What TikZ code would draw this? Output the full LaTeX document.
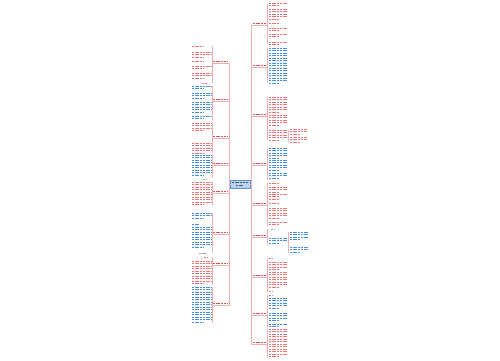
\documentclass[tikz,border=0pt]{standalone}
\begin{document}
\definecolor{lk}{HTML}{F0B0B0}
\definecolor{rt}{HTML}{E87878}
\definecolor{bt}{HTML}{4A90DC}
\definecolor{gt}{HTML}{A0A0A0}
\definecolor{lb}{HTML}{C85A5A}
\definecolor{cf}{HTML}{B9D2EE}
\definecolor{cb}{HTML}{5F93CF}
\tikzset{
  txt/.style={line width=0.9pt, dash pattern=on 2pt off 0.7pt},
  link/.style={draw=lk, line width=0.6pt},
  lab/.style={inner sep=0pt, minimum width=15pt, minimum height=2.5pt},
}
\newcommand\blk[5]{%
  \pgfmathtruncatemacro\nn{max(0,(#4-#3)/2.5)}%
  \foreach \i in {0,...,\nn}{%
    \pgfmathsetmacro\yy{floor(#3+2.5*\i)+0.5}%
    \ifnum\i=\nn
      \draw[txt,draw=#5] (#1,\yy) -- ({#1+0.6*(#2-#1)},\yy);
    \else
      \draw[txt,draw=#5] (#1,\yy) -- (#2,\yy);
    \fi
  }}
% right-side branch: name, y, top, bottom
\newcommand\rbr[4]{%
  \node[lab] (#1) at (260,#2) {};
  \draw[txt,draw=lb] (253,#2-0.5) -- (267,#2-0.5);
  \coordinate (#1t) at (251,#2+1.5);
  \coordinate (#1e) at (267.5,#2+1.5);
  \coordinate (#1a) at (267.5,#3);
  \coordinate (#1b) at (267.5,#4);
  \draw[link] (#1t) -- (#1e);
  \draw[link] (#1a) -- (#1b);
}
\newcommand\lbr[4]{%
  \node[lab] (#1) at (220.5,#2) {};
  \draw[txt,draw=lb] (213,#2-0.5) -- (228,#2-0.5);
  \coordinate (#1t) at (229.5,#2+1.5);
  \coordinate (#1e) at (212,#2+1.5);
  \coordinate (#1a) at (212,#3);
  \coordinate (#1b) at (212,#4);
  \draw[link] (#1t) -- (#1e);
  \draw[link] (#1a) -- (#1b);
}
\begin{tikzpicture}[x=1pt,y=-1pt]
\useasboundingbox (0,0) rectangle (500,360);
\fill[white] (0,0) rectangle (500,360);

% trunks
\coordinate (lt1) at (229.5,63.5);
\coordinate (lt2) at (229.5,305.5);
\coordinate (rt1) at (251.5,25.5);
\coordinate (rt2) at (251.5,344.5);
\draw[link] (lt1) -- (lt2);
\draw[link] (rt1) -- (rt2);

% center
\node[draw=cb, fill=cf, line width=0.6pt, minimum width=20pt, minimum height=8pt, inner sep=0pt] (c) at (240,184) {};
\draw[txt,draw=cb!60!black] (232,182.5) -- (248,182.5);
\draw[txt,draw=cb!60!black] (236,185.5) -- (244,185.5);
\draw[link] (c.west) -- (229.5,184);
\draw[link] (c.east) -- (251.5,184);

% ---------- right branches ----------
\rbr{r1}{24}{4}{44}
\blk{269}{287}{3}{7}{rt}
\blk{269}{287}{9}{20}{rt}
\blk{269}{287}{23}{25}{rt}
\blk{269}{287}{28}{32}{rt}
\blk{269}{287}{34}{38}{rt}
\blk{269}{287}{42}{45}{rt}

\rbr{r2}{66}{48}{83}
\blk{269}{287}{48}{83}{bt}

\rbr{r3}{115}{97}{140}
\blk{269}{287}{97}{112}{rt}
\blk{269}{287}{115}{127}{rt}
\blk{269}{287}{130}{140}{rt}
\coordinate (r3c) at (288.5,130);
\coordinate (r3d) at (288.5,142);
\draw[link] (r3c) -- (r3d);
\blk{290}{307}{129}{135}{rt}
\blk{290}{307}{137}{143}{rt}

\rbr{r4}{164}{148}{180}
\blk{269}{287}{148}{158}{bt}
\blk{269}{287}{160}{170}{bt}
\blk{269}{287}{173}{180}{bt}

\rbr{r5}{204}{183}{226}
\blk{269}{287}{183}{184}{rt}
\blk{269}{287}{187}{192}{rt}
\blk{269}{287}{194}{197}{rt}
\blk{269}{287}{199}{200}{rt}
\blk{269}{287}{203}{205}{rt}
\blk{269}{287}{208}{220}{rt}
\blk{269}{287}{222}{226}{rt}

\rbr{r6}{236}{229}{245}
\blk{271}{276}{229}{229}{gt}
\blk{269}{287}{238}{245}{bt}
\coordinate (r6c) at (288.5,232);
\coordinate (r6d) at (288.5,253);
\draw[link] (r6c) -- (r6d);
\blk{290}{308}{232}{240}{bt}
\blk{290}{308}{247}{253}{bt}

\rbr{r7}{276}{258}{292}
\blk{269}{276}{258}{258}{rt}
\blk{269}{287}{262}{270}{rt}
\blk{269}{287}{272}{287}{rt}
\blk{269}{276}{291}{291}{rt}

\rbr{r8}{314}{295}{327}
\blk{269}{276}{295}{295}{gt}
\blk{269}{287}{298}{310}{bt}
\blk{269}{287}{313}{322}{bt}
\blk{269}{287}{324}{327}{bt}

\rbr{r9}{343}{329}{358}
\blk{269}{287}{329}{358}{rt}

% ---------- left branches ----------
\lbr{l1}{62}{46}{83}
\blk{192}{211}{46}{48}{rt}
\blk{192}{211}{52}{57}{rt}
\blk{192}{211}{61}{63}{rt}
\blk{192}{211}{66}{69}{rt}
\blk{192}{211}{73}{79}{rt}
\blk{202}{211}{83}{83}{rt}

\lbr{l2}{100}{86}{120}
\blk{192}{211}{86}{90}{bt}
\blk{192}{211}{93}{98}{bt}
\blk{192}{211}{102}{112}{bt}
\blk{192}{211}{116}{120}{bt}

\lbr{l3}{137}{123}{153}
\blk{192}{211}{123}{132}{rt}
\blk{192}{211}{143}{153}{rt}

\lbr{l4}{164}{155}{178}
\blk{192}{211}{155}{176}{bt}
\blk{203}{210}{179}{179}{gt}

\lbr{l5}{192}{182}{205}
\blk{192}{211}{182}{205}{rt}

\lbr{l6}{233}{213}{253}
\blk{192}{211}{213}{220}{bt}
\blk{192}{205}{224}{224}{bt}
\blk{192}{211}{227}{247}{bt}
\blk{199}{210}{253}{253}{gt}

\lbr{l7}{264}{257}{285}
\blk{204}{211}{257}{257}{rt}
\blk{192}{211}{261}{285}{rt}

\lbr{l8}{304}{287}{323}
\blk{192}{211}{287}{323}{bt}
\end{tikzpicture}
\end{document}
